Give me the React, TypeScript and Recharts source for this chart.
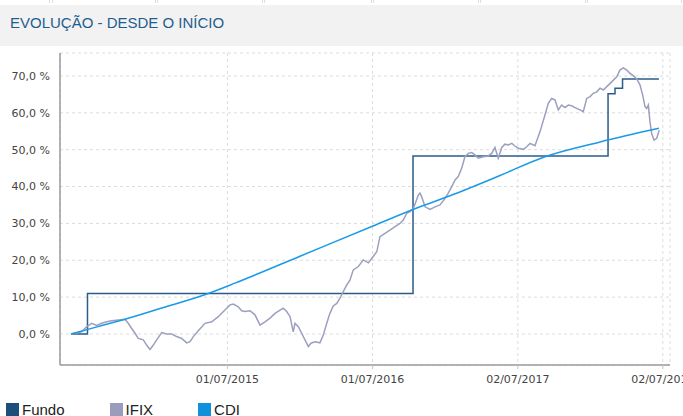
import { LineChart, Line, XAxis, YAxis, CartesianGrid } from 'recharts';

document.body.style.margin = '0';

// x values are decimal years
const fundoYears = [2014.417, 2014.531, 2016.776, 2018.121, 2018.169, 2018.221, 2018.472];
const fundoValues = [0, 11.0, 48.3, 65.2, 66.7, 69.2, 69.2];

const ifixYears = [
  2014.417, 2014.491, 2014.526, 2014.56, 2014.594, 2014.629, 2014.663, 2014.698, 2014.743, 2014.79,
  2014.812, 2014.836, 2014.859, 2014.881, 2014.916, 2014.939, 2014.962, 2014.985, 2015.008, 2015.043,
  2015.077, 2015.112, 2015.146, 2015.181, 2015.215, 2015.238, 2015.261, 2015.295, 2015.341, 2015.388,
  2015.433, 2015.479, 2015.514, 2015.537, 2015.571, 2015.594, 2015.617, 2015.652, 2015.686, 2015.721,
  2015.755, 2015.79, 2015.824, 2015.859, 2015.881, 2015.905, 2015.928, 2015.95, 2015.962, 2015.985,
  2016.008, 2016.031, 2016.054, 2016.072, 2016.1, 2016.134, 2016.157, 2016.181, 2016.203, 2016.226,
  2016.25, 2016.272, 2016.295, 2016.319, 2016.341, 2016.364, 2016.399, 2016.433, 2016.468, 2016.491,
  2016.526, 2016.548, 2016.583, 2016.617, 2016.652, 2016.686, 2016.709, 2016.732, 2016.755, 2016.778,
  2016.801, 2016.812, 2016.824, 2016.836, 2016.859, 2016.893, 2016.928, 2016.962, 2016.997, 2017.019,
  2017.043, 2017.066, 2017.088, 2017.112, 2017.134, 2017.157, 2017.181, 2017.203, 2017.226, 2017.261,
  2017.295, 2017.319, 2017.341, 2017.364, 2017.388, 2017.41, 2017.433, 2017.457, 2017.479, 2017.502,
  2017.537, 2017.56, 2017.583, 2017.617, 2017.652, 2017.686, 2017.709, 2017.732, 2017.755, 2017.778,
  2017.801, 2017.824, 2017.847, 2017.87, 2017.893, 2017.928, 2017.95, 2017.974, 2017.997, 2018.019,
  2018.043, 2018.066, 2018.088, 2018.112, 2018.146, 2018.181, 2018.203, 2018.226, 2018.25, 2018.272,
  2018.295, 2018.319, 2018.341, 2018.36, 2018.376, 2018.388, 2018.399, 2018.41, 2018.422, 2018.438,
  2018.457, 2018.474,
];
const ifixValues = [
  0, 0.6, 2.0, 2.9, 2.3, 2.9, 3.3, 3.6, 3.8, 4.0,
  2.9, 1.5, 0.2, -1.2, -1.6, -3.0, -4.2, -3.0, -1.6, 0.4,
  0, 0, -0.7, -1.2, -2.4, -2.1, -0.7, 0.9, 2.9, 3.3,
  4.7, 6.5, 7.9, 8.1, 7.4, 6.3, 6.1, 6.3, 5.2, 2.4,
  3.3, 4.3, 5.6, 6.5, 7.0, 6.1, 4.7, 0.6, 2.9, 2.0,
  0.2, -1.6, -3.4, -2.5, -2.1, -2.4, -0.3, 2.9, 5.6, 7.6,
  8.3, 9.7, 11.5, 13.3, 14.6, 17.4, 18.3, 20.1, 19.3, 20.5,
  22.3, 26.4, 27.3, 28.2, 29.1, 30.0, 30.9, 32.7, 33.2, 34.0,
  36.4, 37.7, 38.2, 37.2, 34.5, 33.8, 34.5, 35.0, 36.8, 38.2,
  40.0, 41.8, 42.7, 45.0, 48.1, 49.0, 49.2, 48.6, 47.7, 48.1,
  48.3, 49.0, 50.6, 47.7, 50.6, 51.5, 51.3, 51.7, 51.0, 50.4,
  50.1, 50.8, 51.7, 51.1, 54.9, 59.4, 62.6, 63.9, 63.5, 60.8,
  62.1, 61.4, 62.1, 61.9, 61.4, 60.8, 60.3, 63.9, 64.4, 65.3,
  65.7, 66.7, 66.2, 67.1, 68.4, 69.8, 71.6, 72.2, 71.6, 70.7,
  70.1, 69.2, 67.6, 64.8, 61.7, 61.2, 62.1, 57.6, 54.4, 52.6,
  53.1, 55.3,
];

const cdiYears = [
  2014.417, 2014.603, 2014.79, 2015.031, 2015.364, 2015.548, 2015.997, 2016.5, 2016.824, 2017.031,
  2017.376, 2017.672, 2018.066, 2018.472,
];
const cdiValues = [0, 2.0, 4.0, 6.9, 11.0, 13.8, 21.1, 29.3, 34.5, 37.5, 43.0, 47.9, 52.1, 55.8];

const xTickYears = [2015.496, 2016.497, 2017.499, 2018.499];
const xTickLabels = ['01/07/2015', '01/07/2016', '02/07/2017', '02/07/2018'];
const yTicks = [0, 10, 20, 30, 40, 50, 60, 70];

const xDomain = [2014.3414, 2018.5483];
const yDomain = [-8.41, 76.23];

const toRows = (xs: number[], vs: number[]) => xs.map((t, i) => ({ t, v: vs[i] }));

const series = [
  { name: 'Fundo', rows: toRows(fundoYears, fundoValues), color: '#2b5c8a', swatch: '#1c4f7c', type: 'stepAfter' as const },
  { name: 'IFIX', rows: toRows(ifixYears, ifixValues), color: '#9c9fbf', swatch: '#9a9cbc', type: 'linear' as const },
  { name: 'CDI', rows: toRows(cdiYears, cdiValues), color: '#1a9ae6', swatch: '#1191dc', type: 'monotone' as const },
];

const tickFont = { fontSize: 11, fill: '#444', fontFamily: '"DejaVu Sans", Verdana, sans-serif' };
const tabStops = [0, 52, 157, 264, 373, 480, 587, 683];

export default function App() {
  return (
    <div
      style={{
        position: 'relative',
        width: 683,
        height: 416,
        overflow: 'hidden',
        background: '#fff',
        fontFamily: '"Liberation Sans", Arial, sans-serif',
      }}
    >
      {/* remains of the tab row above the panel */}
      {tabStops.slice(0, -1).map((x, i) => (
        <div
          key={x}
          style={{
            position: 'absolute',
            top: 0,
            left: x,
            width: tabStops[i + 1] - x - 3,
            height: 3,
            borderLeft: i ? '1px solid #ddd' : 'none',
            borderRight: '1px solid #ddd',
            background: '#fff',
          }}
        />
      ))}
      <div style={{ position: 'absolute', left: 0, top: 5, width: 683, height: 41, background: '#f2f2f2' }} />
      <div
        style={{
          position: 'absolute',
          left: 10,
          top: 15,
          fontSize: 15,
          lineHeight: '15px',
          color: '#1f5d8f',
          whiteSpace: 'nowrap',
        }}
      >
        EVOLUÇÃO - DESDE O INÍCIO
      </div>

      <div style={{ position: 'absolute', left: 0, top: 0 }}>
        <LineChart width={683} height={416} margin={{ top: 53, right: 13, bottom: 21, left: 8 }}>
          <CartesianGrid stroke="#dcdcdc" strokeDasharray="3 3" />
          <XAxis
            type="number"
            dataKey="t"
            domain={xDomain}
            allowDataOverflow
            ticks={xTickYears}
            interval={0}
            tickFormatter={(v: number) => xTickLabels[xTickYears.indexOf(v)] ?? ''}
            height={30}
            axisLine={{ stroke: '#9a9a9a', strokeWidth: 1.5 }}
            tickLine={{ stroke: '#c4c4c4' }}
            tickSize={4}
            tickMargin={6}
            tick={tickFont}
          />
          <XAxis
            xAxisId="top"
            orientation="top"
            type="number"
            domain={xDomain}
            allowDataOverflow
            height={0}
            tick={false}
            tickLine={false}
            axisLine={{ stroke: '#d4d4d4' }}
          />
          <YAxis
            type="number"
            domain={yDomain}
            allowDataOverflow
            ticks={yTicks}
            interval={0}
            width={52}
            tickFormatter={(v: number) => `${v.toFixed(1).replace('.', ',')} %`}
            axisLine={{ stroke: '#9a9a9a', strokeWidth: 1.5 }}
            tickLine={false}
            tickSize={0}
            tickMargin={10}
            tick={tickFont}
          />
          <YAxis
            yAxisId="right"
            orientation="right"
            type="number"
            domain={yDomain}
            allowDataOverflow
            width={0}
            tick={false}
            tickLine={false}
            axisLine={{ stroke: '#d4d4d4' }}
          />
          {series.map((s) => (
            <Line
              key={s.name}
              data={s.rows}
              dataKey="v"
              name={s.name}
              type={s.type}
              stroke={s.color}
              strokeWidth={1.5}
              dot={false}
              activeDot={false}
              isAnimationActive={false}
            />
          ))}
        </LineChart>
      </div>

      <div
        style={{
          position: 'absolute',
          left: 6,
          top: 402,
          display: 'flex',
          fontSize: 15,
          lineHeight: '15px',
          color: '#222',
        }}
      >
        {series.map((s) => (
          <div key={s.name} style={{ display: 'flex', alignItems: 'center', marginRight: 45 }}>
            <span style={{ width: 13, height: 13, background: s.swatch, marginRight: 3, display: 'inline-block' }} />
            <span>{s.name}</span>
          </div>
        ))}
      </div>
    </div>
  );
}
